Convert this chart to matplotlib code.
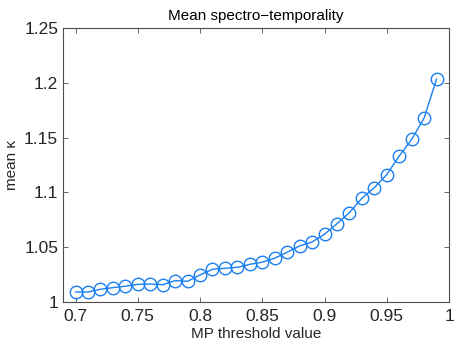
import matplotlib
matplotlib.use("Agg")
import matplotlib.pyplot as plt
import numpy as np

x_vals = [0.70, 0.71, 0.72, 0.73, 0.74, 0.75, 0.76, 0.77, 0.78, 0.79,
          0.80, 0.81, 0.82, 0.83, 0.84, 0.85, 0.86, 0.87, 0.88, 0.89,
          0.90, 0.91, 0.92, 0.93, 0.94, 0.95, 0.96, 0.97, 0.98, 0.99]
mean_kappa = [1.009, 1.009, 1.0115, 1.013, 1.0143, 1.016, 1.0163, 1.0157, 1.0194, 1.0188,
              1.0246, 1.0298, 1.0307, 1.0316, 1.0343, 1.0362, 1.0399, 1.0453, 1.0511, 1.0547,
              1.0618, 1.0714, 1.0815, 1.0946, 1.1043, 1.1162, 1.1332, 1.1484, 1.1679, 1.2035]
x_ticks = [0.7, 0.75, 0.8, 0.85, 0.9, 0.95, 1.0]
x_ticklabels = ["0.7", "0.75", "0.8", "0.85", "0.9", "0.95", "1"]
y_ticks = [1.0, 1.05, 1.1, 1.15, 1.2, 1.25]
y_ticklabels = ["1", "1.05", "1.1", "1.15", "1.2", "1.25"]

plt.rcParams['font.family'] = ['Liberation Sans', 'DejaVu Sans']

fig = plt.figure(figsize=(4.54, 3.47), dpi=100)
ax = fig.add_axes([0.139, 0.130, 0.850, 0.789])

color = '#1a7ff0'
ax.plot(x_vals, mean_kappa, '-', color=color, lw=1.0, marker='o', markersize=9,
        markerfacecolor='none', markeredgecolor=color, markeredgewidth=1.0)

ax.set_xlim(0.69, 1.0)
ax.set_ylim(1.0, 1.25)
ax.set_xticks(x_ticks)
ax.set_xticklabels(x_ticklabels)
ax.set_yticks(y_ticks)
ax.set_yticklabels(y_ticklabels)

edge = '#4d4d4d'
for s in ax.spines.values():
    s.set_color(edge)
    s.set_linewidth(0.8)
ax.tick_params(direction='in', top=True, right=True, length=3.5, width=0.6,
               colors=edge, labelsize=12.5, labelcolor='#262626')
ax.tick_params(axis='x', pad=5)

ax.set_xlabel('MP threshold value', fontsize=11, color='#262626', labelpad=2)
ax.set_ylabel('mean κ', fontsize=11, color='#262626', labelpad=4)
ax.set_title('Mean spectro\u2212temporality', fontsize=11, color='black', pad=6)

fig.savefig('out.png', dpi=100)
